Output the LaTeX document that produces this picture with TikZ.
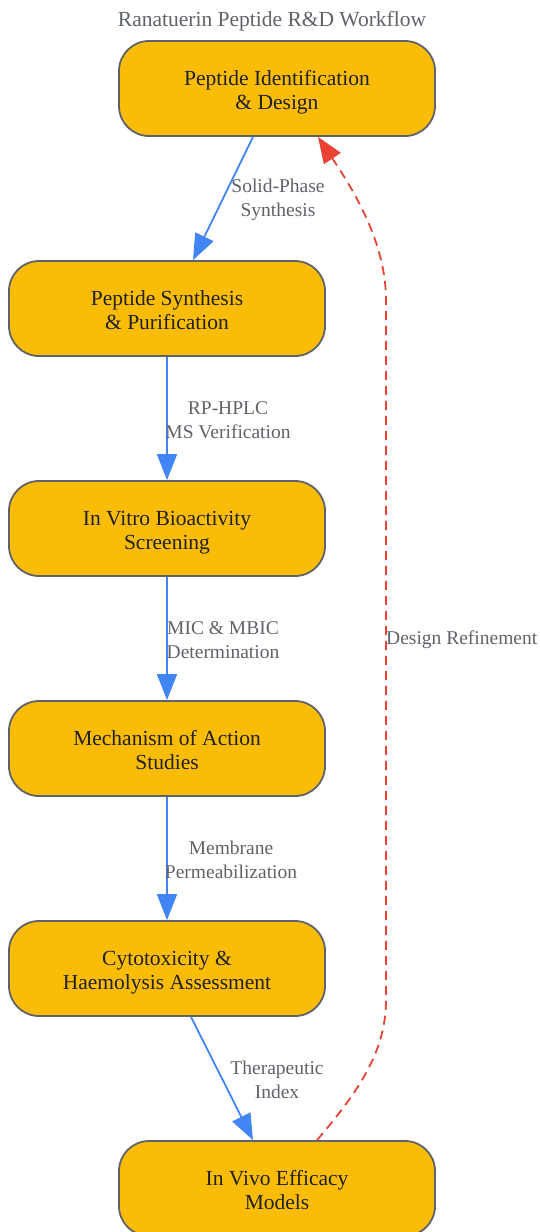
\documentclass[tikz,border=0pt]{standalone}
\usepackage{fontspec}
\setmainfont{Liberation Serif}
\usetikzlibrary{arrows.meta}
\definecolor{boxfill}{HTML}{FBBC05}
\definecolor{boxline}{HTML}{5F6368}
\definecolor{flowblue}{HTML}{4285F4}
\definecolor{flowred}{HTML}{EA4335}
\definecolor{labelgray}{HTML}{5F6368}
\definecolor{textdark}{HTML}{202124}
\tikzset{
  stage/.style={draw=boxline, line width=1.8pt, fill=boxfill, rounded corners=30pt,
    minimum width=316pt, minimum height=95pt, align=center, text=textdark,
    font=\fontsize{21.5}{24}\selectfont, text height=47pt, text depth=5pt},
  flow/.style={flowblue, line width=1.8pt, -{Triangle[length=26pt,width=20pt]}},
  refine/.style={flowred, line width=1.8pt, dash pattern=on 9pt off 6pt,
    -{Triangle[length=26pt,width=20pt]}},
  edgelabel/.style={text=labelgray, align=center, font=\fontsize{19.5}{24}\selectfont}
}
\begin{document}
\begin{tikzpicture}[x=1pt,y=-1pt]
	\useasboundingbox (0,0) rectangle (540,1232);
	% Titulo
		\node[text=labelgray, font=\fontsize{21.5}{24}\selectfont] (title) at (272,21) {Ranatuerin Peptide R\&D Workflow};
	% Etapas
		\node[stage] (ident) at (277,88.5) {Peptide Identification\\ \& Design};
		\node[stage] (synth) at (167,308.5) {Peptide Synthesis\\ \& Purification};
		\node[stage] (vitro) at (167,528.5) {In Vitro Bioactivity\\ Screening};
		\node[stage] (mech) at (167,748.5) {Mechanism of Action\\ Studies};
		\node[stage] (cyto) at (167,968.5) {Cytotoxicity \&\\ Haemolysis Assessment};
		\node[stage] (vivo) at (277,1188.5) {In Vivo Efficacy\\ Models};
	% Flechas principales
		\draw[flow] ([xshift=-24pt]ident.south) -- ([xshift=26pt]synth.north);
		\draw[flow] (synth) -- (vitro);
		\draw[flow] (vitro) -- (mech);
		\draw[flow] (mech) -- (cyto);
		\draw[flow] ([xshift=24pt]cyto.south) -- ([xshift=-24pt]vivo.north);
	% Etiquetas
		\node[edgelabel] (lsynth) at (278,200) {Solid-Phase\\ Synthesis};
		\node[edgelabel] (lhplc) at (228,420) {RP-HPLC\\ MS Verification};
		\node[edgelabel] (lmic) at (223,640) {MIC \& MBIC\\ Determination};
		\node[edgelabel] (lmemb) at (231,860) {Membrane\\ Permeabilization};
		\node[edgelabel] (lindex) at (277,1080) {Therapeutic\\ Index};
	% Retroalimentacion
		\draw[refine] ([xshift=40pt]vivo.north) .. controls (360,1090) and (386,1050) .. (386,1000)
			-- (386,300) .. controls (386,240) and (350,185) .. ([xshift=41pt]ident.south);
		\node[edgelabel, anchor=west, inner sep=0pt] (lrefine) at (386,640) {Design Refinement};
\end{tikzpicture}
\end{document}
